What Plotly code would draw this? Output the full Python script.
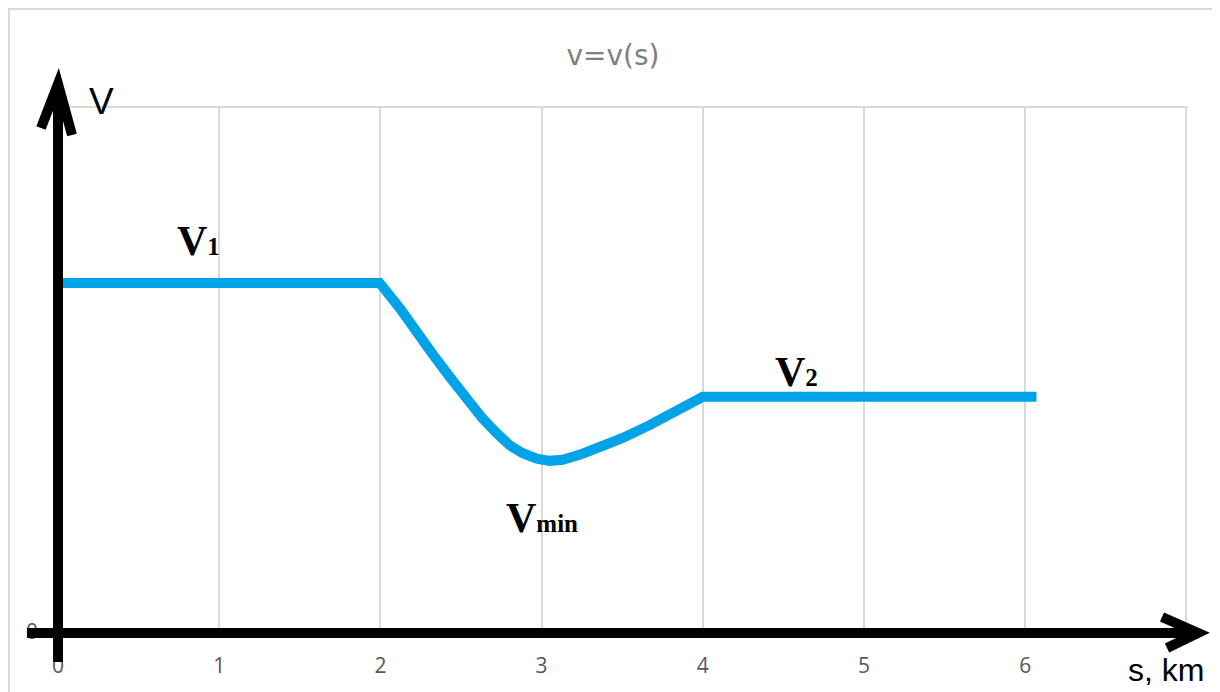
import plotly.graph_objects as go

# ---- data ----
s_km = [0.0, 1.995, 2.12, 2.22, 2.32, 2.43, 2.53, 2.63, 2.72, 2.80, 2.88, 2.97,
        3.05, 3.13, 3.25, 3.36, 3.50, 3.67, 3.83, 4.0, 6.07]
v_vals = [66.5, 66.5, 61.7, 57.2, 53.1, 48.6, 44.6, 40.8, 37.9, 35.6, 34.1, 33.0,
          32.6, 32.8, 33.9, 35.0, 36.9, 39.4, 41.9, 44.8, 44.8]
x_ticks = [0, 1, 2, 3, 4, 5, 6, 7]
x_tick_text = ["0", "1", "2", "3", "4", "5", "6", ""]
y_ticks = [0]
y_tick_text = ["0"]
title_text = "v=v(s)"

# page offset of the figure (body margin)
OFF = 8
W, H = 1220 - OFF, 692 - OFF
ML, MT = 58 - OFF, 107 - OFF
MR = W - (1188 - OFF)
MB = H - (632 - OFF)
PW, PH = W - ML - MR, H - MT - MB


def px(x):
    """page x pixel -> paper coordinate"""
    return (x - OFF - ML) / PW


def py(y):
    """page y pixel -> paper coordinate"""
    return (H - MB - (y - OFF)) / PH


fig = go.Figure()
fig.add_trace(go.Scatter(
    x=s_km, y=v_vals, mode="lines",
    line=dict(color="#00A2E8", width=10),
    showlegend=False, hoverinfo="skip",
))

shapes = []
# outer chart border (left and top edges visible)
shapes.append(dict(type="path", xref="paper", yref="paper",
                   path=f"M {px(9)},{py(720)} L {px(9)},{py(9)} L {px(1300)},{py(9)}",
                   line=dict(color="#d9d9d9", width=2), layer="below"))
# top line of plot area
shapes.append(dict(type="line", xref="paper", yref="paper",
                   x0=0, x1=1, y0=1, y1=1,
                   line=dict(color="#d9d9d9", width=2), layer="below"))
black = dict(color="black", width=10)
# vertical axis arrow
shapes.append(dict(type="path", xref="paper", yref="paper",
                   path=f"M {px(58)},{py(662)} L {px(58)},{py(84)}",
                   line=black))
shapes.append(dict(type="path", xref="paper", yref="paper",
                   path=f"M {px(41)},{py(128)} L {px(58)},{py(84)} L {px(72)},{py(135)}",
                   line=black))
# horizontal axis arrow
shapes.append(dict(type="path", xref="paper", yref="paper",
                   path=f"M {px(27)},{py(633)} L {px(1198)},{py(633)}",
                   line=black))
shapes.append(dict(type="path", xref="paper", yref="paper",
                   path=f"M {px(1162)},{py(617)} L {px(1198)},{py(633)} L {px(1167)},{py(648)}",
                   line=black))

serif = "Liberation Serif"
lab_font = dict(family=serif, size=42, color="black")
annotations = [
    dict(text="<b>V<span style='font-size:25px'>1</span></b>", x=0.87, y=74.5,
         xref="x", yref="y", xanchor="center", yanchor="middle", showarrow=False, font=lab_font),
    dict(text="<b>V<span style='font-size:25px'>2</span></b>", x=4.58, y=49.5,
         xref="x", yref="y", xanchor="center", yanchor="middle", showarrow=False, font=lab_font),
    dict(text="<b>V<span style='font-size:25px'>min</span></b>", x=3.0, y=21.8,
         xref="x", yref="y", xanchor="center", yanchor="middle", showarrow=False, font=lab_font),
    dict(text="V", x=px(101), y=py(101), xref="paper", yref="paper", showarrow=False,
         xanchor="center", yanchor="middle",
         font=dict(family="Liberation Sans", size=37, color="black")),
    dict(text="s, km", x=px(1166), y=py(670), xref="paper", yref="paper", showarrow=False,
         xanchor="center", yanchor="middle",
         font=dict(family="Liberation Sans", size=32, color="black")),
]

fig.update_layout(
    width=W, height=H,
    margin=dict(l=ML, r=MR, t=MT, b=MB),
    paper_bgcolor="white", plot_bgcolor="white",
    title=dict(text=title_text, x=px(613), xref="paper", xanchor="center",
               y=1 - (55 - OFF) / H, yanchor="middle",
               font=dict(family="DejaVu Sans", size=28, color="#7f7f7f")),
    xaxis=dict(range=[0, 7.01], tickvals=x_ticks, ticktext=x_tick_text,
               showgrid=True, gridcolor="#d9d9d9", gridwidth=2,
               zeroline=False, showline=False, ticks="", ticklabelstandoff=19,
               tickfont=dict(family="Open Sans", size=21, color="#595959")),
    yaxis=dict(range=[0, 100], tickvals=y_ticks, ticktext=y_tick_text,
               showgrid=False, zeroline=False, showline=False, ticks="",
               ticklabelstandoff=19,
               tickfont=dict(family="Open Sans", size=21, color="#595959")),
    shapes=shapes, annotations=annotations,
)

fig.write_html("out.html")
